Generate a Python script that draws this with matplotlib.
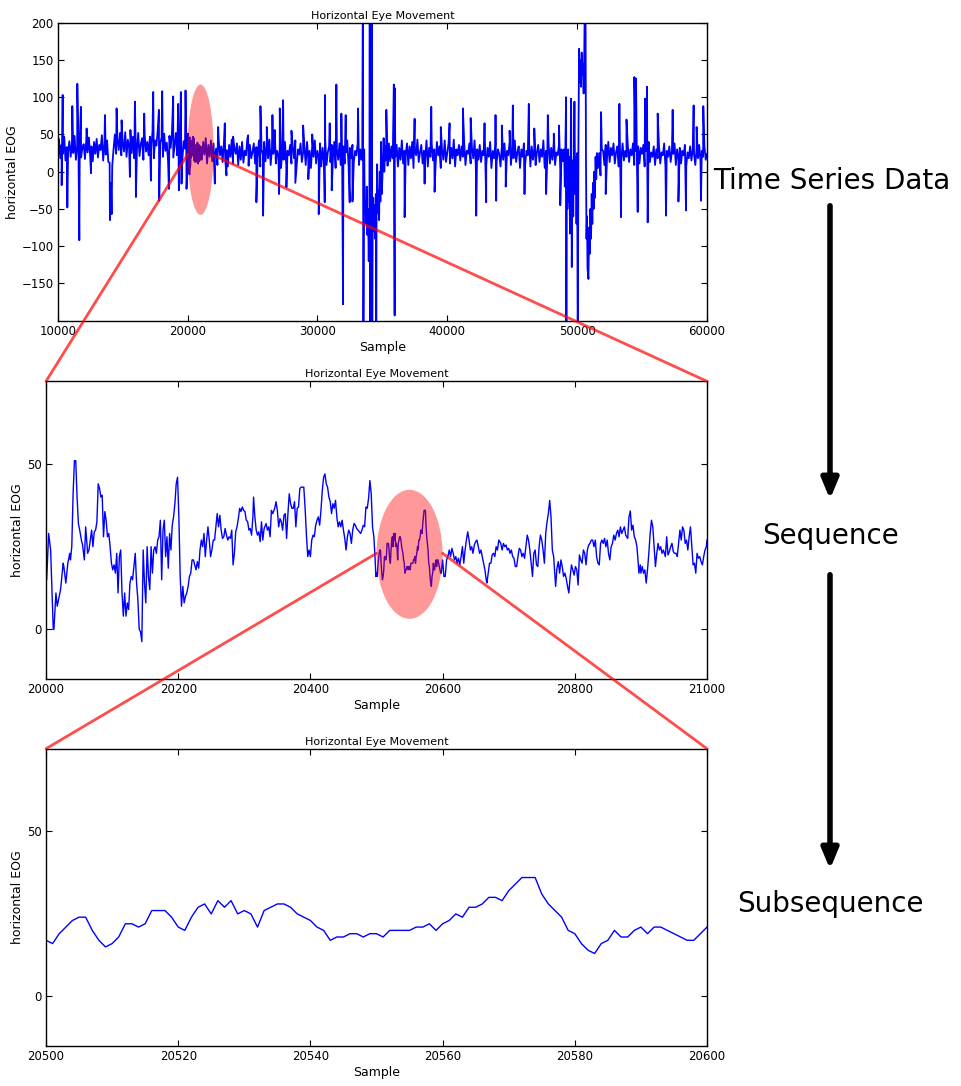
import matplotlib
matplotlib.use("Agg")
import matplotlib.pyplot as plt
from matplotlib.patches import Ellipse, ConnectionPatch, FancyArrowPatch

# ---------------- data ----------------
# Subsequence: one value per sample, 20500 .. 20600
sub_start = 20500
sub_y = [17, 16, 19, 21, 23, 24, 24, 20, 17, 15, 16, 18, 22, 22, 21, 22, 26, 26, 26, 24,
         21, 20, 24, 27, 28, 25, 29, 27, 29, 25, 26, 25, 21, 26, 27, 28, 28, 27, 25, 24,
         23, 21, 20, 17, 18, 18, 19, 19, 18, 19, 19, 18, 20, 20, 20, 20, 21, 21, 22, 20,
         22, 23, 25, 24, 27, 27, 28, 30, 30, 29, 32, 34, 36, 36, 36, 31, 28, 26, 24, 20,
         19, 16, 14, 13, 16, 17, 20, 18, 18, 20, 21, 19, 21, 21, 20, 19, 18, 17, 17, 19, 21]

# Sequence before the subsequence (sample, value)
seq_a = [(20000, 15), (20001, 15), (20004, 29), (20007, 24), (20011, 0), (20012, 0), (20015, 11),
         (20017, 7), (20020, 10), (20022, 12), (20026, 20), (20027, 19), (20030, 14), (20033, 20),
         (20036, 23), (20037, 21), (20039, 25), (20041, 41), (20043, 51), (20045, 51), (20047, 40),
         (20049, 32), (20051, 30), (20054, 26.5), (20055, 26), (20058, 21), (20060, 31), (20063, 23),
         (20065, 24), (20067, 27), (20069, 30), (20071, 25), (20073, 29.5), (20075, 30), (20077, 32.5),
         (20079, 44), (20081, 42.6), (20083, 40), (20085, 40.6), (20087, 28), (20089, 35.6), (20091, 33),
         (20093, 28), (20095, 29), (20097, 25), (20099, 20), (20101, 18), (20103, 19.5), (20105, 17),
         (20107, 23), (20109, 11), (20111, 22), (20113, 24), (20115, 11), (20117, 4), (20119, 11),
         (20121, 4), (20123, 8), (20125, 6), (20127, 14), (20129, 16), (20131, 15), (20133, 19),
         (20135, 23), (20137, 14), (20139, 9), (20141, 0), (20143, -0.7), (20145, -3.7), (20147, 24),
         (20149, 14), (20151, 8), (20153, 25), (20155, 16), (20157, 12), (20159, 25), (20161, 17),
         (20163, 24), (20165, 25), (20167, 23), (20169, 27), (20171, 28), (20173, 33), (20175, 15),
         (20177, 30), (20179, 33), (20181, 22), (20183, 28), (20185, 18.5), (20187, 29), (20189, 24),
         (20191, 31.5), (20193, 34), (20195, 38), (20197, 44), (20199, 46), (20201, 34), (20203, 16),
         (20205, 7), (20207, 13), (20209, 8), (20211, 10), (20213, 11), (20215, 13), (20217, 16),
         (20219, 17), (20221, 21), (20223, 21), (20225, 19.5), (20227, 18), (20229, 20.5), (20231, 18.5),
         (20233, 24), (20235, 27), (20237, 25), (20239, 29), (20241, 22), (20243, 27), (20245, 31),
         (20247, 27), (20249, 22), (20251, 24), (20253, 27), (20255, 27), (20257, 31), (20259, 35),
         (20261, 31), (20263, 34.5), (20265, 30), (20267, 27.5), (20269, 28), (20271, 30.5), (20273, 28.5),
         (20275, 27), (20277, 28), (20279, 27.5), (20281, 30), (20283, 19.5), (20285, 23), (20287, 29.5),
         (20289, 31), (20291, 33.5), (20293, 36.6), (20295, 35.6), (20297, 37), (20299, 36), (20301, 35.6),
         (20303, 33), (20305, 32.6), (20307, 30), (20309, 30.5), (20311, 28.5), (20313, 34), (20314, 40),
         (20316, 34), (20318, 30), (20320, 28.5), (20322, 29.5), (20324, 26.5), (20326, 32.5), (20328, 27),
         (20330, 30.5), (20333, 32), (20335, 30), (20337, 31), (20339, 28), (20341, 36), (20343, 35),
         (20346, 36.6), (20348, 38.6), (20350, 36), (20352, 31), (20354, 33.5), (20356, 32.5), (20358, 30),
         (20360, 34.5), (20362, 35), (20364, 27.5), (20366, 35), (20368, 41), (20370, 38), (20372, 36.6),
         (20374, 36.6), (20376, 38.6), (20378, 31), (20380, 36.6), (20382, 37), (20384, 42.6), (20386, 43),
         (20388, 43), (20390, 43), (20392, 36.6), (20394, 28.5), (20396, 22), (20398, 24), (20400, 22),
         (20402, 27), (20404, 28.5), (20406, 28), (20408, 31.5), (20410, 33), (20412, 34), (20414, 31.5),
         (20416, 36), (20418, 42), (20420, 46), (20422, 47), (20424, 44), (20426, 43), (20428, 40),
         (20430, 38.6), (20432, 35), (20434, 38), (20436, 36.6), (20438, 39), (20440, 34), (20442, 31),
         (20444, 32.5), (20446, 31), (20448, 33), (20450, 30), (20452, 27.5), (20454, 24), (20456, 28),
         (20458, 30), (20460, 29), (20462, 26), (20464, 30), (20466, 32), (20468, 31.5), (20470, 30.5),
         (20472, 30), (20474, 29.5), (20476, 29), (20478, 30), (20480, 31.5), (20482, 31), (20484, 37),
         (20486, 36.6), (20488, 39.6), (20490, 45), (20492, 41), (20494, 31), (20496, 28), (20498, 21),
         (20499, 16)]

# Sequence after the subsequence (sample, value)
seq_b = [(20602, 16), (20604, 16), (20606, 21), (20608, 22), (20610, 24), (20612, 22), (20614, 24.5),
         (20616, 23), (20618, 21), (20620, 22), (20622, 20), (20624, 21.5), (20626, 19.5), (20628, 22),
         (20630, 25), (20632, 20), (20634, 24), (20636, 27), (20638, 29.5), (20640, 27), (20642, 24),
         (20644, 25), (20646, 23), (20648, 25.5), (20650, 26.5), (20652, 27), (20654, 25), (20656, 23),
         (20658, 24), (20660, 22), (20662, 20), (20664, 18), (20666, 15), (20667, 14), (20669, 17),
         (20671, 20), (20673, 20), (20675, 22.5), (20677, 23), (20679, 22), (20681, 25), (20683, 24),
         (20685, 27), (20688, 26), (20690, 24), (20692, 26), (20694, 25), (20696, 25.5), (20698, 24),
         (20700, 24.5), (20702, 23), (20704, 24), (20706, 22), (20708, 21.5), (20710, 19), (20712, 19),
         (20714, 22), (20716, 24.5), (20718, 24), (20720, 22), (20722, 23), (20724, 21.5), (20726, 25),
         (20728, 28.5), (20730, 27), (20732, 24), (20734, 20), (20736, 16), (20738, 23), (20740, 24),
         (20742, 19.5), (20744, 19), (20746, 25), (20748, 28.5), (20750, 27), (20752, 24), (20754, 20),
         (20756, 29), (20758, 32.5), (20760, 35), (20762, 39), (20764, 34), (20766, 24), (20768, 22),
         (20770, 16), (20771, 13), (20773, 18.5), (20775, 20.5), (20777, 17), (20779, 21), (20781, 19),
         (20783, 16), (20785, 17), (20787, 15.4), (20789, 13), (20791, 11), (20793, 16), (20795, 19.5),
         (20797, 18), (20799, 16.4), (20801, 19), (20803, 18), (20805, 13.4), (20807, 22.5), (20809, 21),
         (20811, 20), (20813, 24), (20815, 23), (20817, 19.5), (20819, 24), (20821, 25.5), (20823, 26),
         (20825, 27), (20827, 27), (20829, 25), (20831, 27), (20833, 22), (20835, 20), (20837, 19.5),
         (20839, 26), (20841, 27), (20843, 26), (20845, 27.5), (20847, 25), (20849, 27), (20851, 23),
         (20853, 21), (20855, 25), (20857, 26), (20859, 28.5), (20861, 27), (20863, 29), (20865, 30),
         (20867, 28), (20869, 31), (20871, 29), (20873, 30), (20875, 31), (20877, 28.5), (20880, 27.5),
         (20882, 34), (20884, 35.8), (20886, 30), (20888, 31.5), (20890, 28), (20892, 27), (20894, 25),
         (20896, 20), (20897, 17), (20899, 19.5), (20900, 17), (20902, 19), (20904, 17), (20906, 18),
         (20908, 14), (20910, 18), (20912, 23), (20914, 29), (20916, 33), (20918, 31), (20920, 25),
         (20922, 19), (20924, 23), (20926, 26), (20928, 24), (20930, 25), (20932, 23), (20934, 24),
         (20937, 22), (20939, 28), (20941, 22.5), (20943, 23.5), (20945, 25), (20947, 26), (20949, 23.5),
         (20951, 23), (20953, 23), (20955, 22), (20957, 26), (20959, 30), (20961, 27), (20963, 31),
         (20965, 30), (20967, 26), (20969, 27), (20971, 24), (20973, 28), (20975, 31), (20977, 25),
         (20979, 19.5), (20981, 20), (20983, 17), (20985, 23), (20987, 21.5), (20989, 22), (20991, 20.5),
         (20993, 19.5), (20995, 22), (20997, 24), (20999, 25), (21000, 27)]

# Long recording: band values every 100 samples (start sample, values)
band_step = 100
band_1_start = 10000
band_1 = [30, 44, 18, 36, 24, 47, 15, 33, 27, 41,
          20, 39, 25, 48, 16, 35, 28, 43, 19, 32,
          37, 17, 42, 26, 46, 21, 34, 14, 40, 24,
          44, 19, 36, 29, 49, 15, 38, 23, 42, 13,
          12, -15, 8, 30, 50, 24, 44, 29, 52, 22,
          40, 27, 53, 20, 43, 32, 56, 25, 47, 18,
          41, 29, 52, 21, 37, 45, 16, 49, 27, 40,
          22, 47, 31, 54, 18, 42, 35, 55, 24, 38,
          46, 20, 51, 28, 39, 14, 48, 32, 54, 19,
          35, 52, 22, 44, 28, 56, 17, 41, 31, 48]
band_2_start = 21000
band_2 = [34, 16, 40, 23, 45, 11, 36, 20, 42, 14,
          38, 18, 31, 9, 42, 22, 34, 13, 39, 17,
          29, 7, 36, 20, 43, 11, 32, 24, 38, 9,
          34, 16, 40, 12, 28, 22, 44, 8, 36, 18,
          26, 38, 11, 33, 20, 42, 7, 30, 23, 40,
          14, 36, 18, 43, 9, 32, 24, 38, 11, 28,
          20, 38, 5, 32, 16, 40, 9, 28, 22, 36,
          11, 34, 18, 42, 7, 30, 23, 38, 13, 26,
          33, 9, 40, 16, 28, 5, 36, 20, 42, 11,
          28, 18, 38, 7, 32, 14, 43, 9, 26, 34,
          13, 36, 20, 40, 5, 30, 16, 38, 9, 28,
          34, 11, 26, 42, 7, 32, 18, 36, 13, 28,
          22, 38, 9, 30, 16]
band_3_start = 35300
band_3 = [30, 8, 38, 14, 34, 18, 40,
          20, 36, 7, 32, 16, 42, 11, 28, 23, 38,
          9, 34, 18, 40, 5, 30, 22, 43, 13, 26,
          36, 11, 28, 18, 42, 7, 32, 20, 38, 15,
          30, 9, 40, 22, 34, 5, 28, 16, 42, 13,
          26, 38, 11, 32, 18, 43, 7, 30, 22, 36,
          15, 34, 20, 40, 9, 28, 24, 38, 11, 32,
          18, 42, 7, 30, 16, 36, 13, 28, 22, 38,
          9, 32, 20, 40, 5, 28, 18, 36, 13, 30,
          24, 7, 34, 16, 38, 11, 28, 22, 40, 9,
          32, 18, 42, 13, 26, 34, 5, 30, 20, 38,
          11, 28, 22, 40, 7, 34, 16, 32, 9, 26,
          36, 13, 30, 20, 42, 5, 28, 18, 38, 11,
          32, 16, 40, 9, 26, 22, 36, 3, 30, 14]
band_4_start = 51600
band_4 = [5, 25, -5, 30,
          28, 9, 36, 18, 40, 13, 32, 22, 38, 11,
          26, 34, 7, 30, 16, 38, 15, 28, 20, 36,
          13, 30, 22, 38, 9, 28, 18, 34, 11, 32,
          24, 36, 7, 28, 16, 40, 13, 26, 20, 34,
          9, 30, 18, 36, 11, 26, 22, 38, 7, 28,
          20, 34, 13, 28, 24, 38, 9, 30, 16, 32,
          11, 28, 22, 36, 7, 26, 18, 34, 15, 30,
          24, 9, 32, 18, 36, 13, 28, 20, 34, 16,
          24]

# Large eye-movement excursions (sample, value); +-250 runs off the axes
swing_1 = [(33450, 20), (33500, 250), (33540, -250), (33600, 30), (33650, -55), (33700, -40),
           (33760, -70), (33800, -20), (33850, -85), (33900, -50), (33950, -120), (34000, -60),
           (34030, 250), (34060, -250), (34100, 250), (34150, -250), (34180, 250), (34220, -250),
           (34260, -60), (34300, -35), (34350, -80), (34400, -45), (34450, -90), (34500, -30),
           (34530, -250), (34550, -70), (34600, 10), (34650, -55), (34700, -25), (34750, -65),
           (34800, 0), (34850, -40), (34900, 40), (34950, -30), (35000, -10), (35050, 20),
           (35100, 45), (35150, 0), (35200, 35), (35250, 15)]
swing_2 = [(49000, 30), (49050, -20), (49100, 40), (49150, 100), (49170, -250), (49200, 10),
           (49250, -50), (49300, 30), (49350, -40), (49400, 20), (49450, -83), (49500, 25),
           (49535, 98), (49587, -128), (49650, 15), (49700, -60), (49750, 30), (49792, 94),
           (49850, -30), (49900, 20), (49950, -70), (50000, 25), (50048, -250), (50100, 40),
           (50150, 165), (50200, 120), (50250, 150), (50300, 114), (50350, 160), (50400, 130),
           (50450, 145), (50500, 105), (50550, 160), (50600, 250), (50640, 250), (50680, 20),
           (50720, -90), (50760, -60), (50800, -130), (50870, -144), (50920, -75), (50970, -110),
           (51020, -50), (51070, -90), (51120, -30), (51170, -70), (51220, -15), (51270, -50),
           (51320, 0), (51370, -35), (51420, 20), (51470, -10), (51520, 25)]

# Isolated blink spikes (sample, value)
spikes = [(10305, -18), (10382, 103), (10741, -48), (11125, 88), (11510, 118), (11664, -92),
          (11790, 87), (12228, 58), (12561, -2), (13638, 76), (14022, -65), (14150, -57),
          (14535, 85), (14920, 69), (15560, -7), (15945, 94), (16022, -34), (16663, 78),
          (17176, -12), (17355, 107), (17791, 83), (17817, -39), (18047, 108), (18560, -23),
          (18894, 101), (19279, 91), (19330, -25), (19484, 107), (19535, -16), (19843, 109),
          (19920, -23), (22099, -16), (22355, 60), (22868, 65), (22996, -5), (23510, 47),
          (24663, 49), (25300, -41), (25612, 88), (25817, -59), (26100, 60), (26536, 76),
          (26714, 56), (27049, -30), (27100, 85), (27357, 96), (27613, -21), (28000, 55),
          (28300, -15), (28900, 62), (29300, -10), (29600, 50), (30100, -57), (30562, -41),
          (30587, 103), (30946, 65), (31100, -25), (31459, 117), (31844, 78), (31972, -178),
          (32177, 76), (32485, -41), (32700, -40), (33125, 85), (35306, 83), (35885, 117),
          (35946, -193), (35960, 112), (36715, -61), (37484, 71), (38253, -16), (38766, 87),
          (39023, -27), (39500, 60), (40177, 65), (41202, 85), (41800, 72), (42228, -59),
          (42869, 65), (42997, -41), (43715, 76), (43766, -39), (44200, 62), (44500, -20),
          (44800, 55), (45048, 89), (45946, -30), (46279, 91), (46700, 58), (47612, -30),
          (47741, 76), (48202, 51), (48600, 62), (48700, -45), (51843, 80), (52200, -30),
          (53253, 91), (53381, -61), (53800, 70), (54407, 127), (54535, 125), (54663, -54),
          (55227, 98), (55381, 114), (55433, -68), (56202, 78), (56843, -59), (57356, 83),
          (57800, -40), (58382, -52), (58971, 89), (59200, 60), (59535, -39), (59714, 88)]

# Labels
title_text = "Horizontal Eye Movement"
x_label = "Sample"
y_label = "horizontal EOG"
stage_labels = ["Time Series Data", "Sequence", "Subsequence"]

# ---------------- assemble series ----------------
sub_pts = [(sub_start + i, v) for i, v in enumerate(sub_y)]
seq_pts = seq_a + sub_pts + seq_b

top_pts = []
for start, vals in [(band_1_start, band_1), (band_2_start, band_2),
                    (band_3_start, band_3), (band_4_start, band_4)]:
    top_pts += [(start + band_step * i, v) for i, v in enumerate(vals)]
top_pts += swing_1 + swing_2 + spikes + seq_pts
top_pts.sort(key=lambda p: p[0])

def split(pts):
    return [p[0] for p in pts], [p[1] for p in pts]

top_x, top_y = split(top_pts)
seq_x, seq_y = split(seq_pts)
sub_x, sub_v = split(sub_pts)

# ---------------- style ----------------
plt.rcParams.update({
    "font.family": "DejaVu Sans",
    "xtick.direction": "in", "ytick.direction": "in",
    "xtick.top": True, "ytick.right": True,
    "xtick.major.size": 4, "ytick.major.size": 4,
    "xtick.labelsize": 8.5, "ytick.labelsize": 8.5,
    "axes.linewidth": 1.0,
})

W, H = 961, 1086
fig = plt.figure(figsize=(W / 100, H / 100), dpi=100)

def axes_px(left, top, right, bottom):
    return fig.add_axes([left / W, 1 - bottom / H, (right - left) / W, (bottom - top) / H])

ax1 = axes_px(57.7, 22.7, 707, 320.7)
ax2 = axes_px(46, 381.3, 707, 679)
ax3 = axes_px(46, 748.7, 707, 1046)

for ax, (xs, ys), lw in zip([ax1, ax2, ax3],
                            [(top_x, top_y), (seq_x, seq_y), (sub_x, sub_v)],
                            [1.3, 1.0, 1.0]):
    ax.plot(xs, ys, color="blue", lw=lw, zorder=2)
    ax.set_title(title_text, fontsize=8, pad=3)
    ax.set_xlabel(x_label, fontsize=9, labelpad=2)
    ax.set_ylabel(y_label, fontsize=9, labelpad=2)
    ax.ticklabel_format(useOffset=False, style="plain")
    ax.tick_params(pad=3)

ax1.set_xlim(10000, 60000)
ax1.set_ylim(-200, 200)
ax1.set_xticks(range(10000, 60001, 10000))
ax1.set_yticks(range(-150, 201, 50))

ax2.set_xlim(20000, 21000)
ax2.set_ylim(-15, 75)
ax2.set_xticks(range(20000, 21001, 200))
ax2.set_yticks([0, 50])

ax3.set_xlim(20500, 20600)
ax3.set_ylim(-15, 75)
ax3.set_xticks(range(20500, 20601, 20))
ax3.set_yticks([0, 50])

# zoom highlight ellipses
ax1.add_patch(Ellipse((21000, 29.5), 2000, 175, facecolor="red", alpha=0.4, lw=0, zorder=3))
ax2.add_patch(Ellipse((20550, 22.7), 100, 39, facecolor="red", alpha=0.4, lw=0, zorder=3))

# connector lines
line_kw = dict(color="red", alpha=0.7, lw=2.0, zorder=10)
for (axa, xya, axb, xyb) in [(ax1, (20000, 23), ax2, (0, 1)), (ax1, (22000, 22), ax2, (1, 1)),
                             (ax2, (20500, 23), ax3, (0, 1)), (ax2, (20600, 23), ax3, (1, 1))]:
    con = ConnectionPatch(xyA=xya, coordsA="data", axesA=axa,
                          xyB=xyb, coordsB="axes fraction", axesB=axb, **line_kw)
    fig.add_artist(con)

# stage labels and arrows
label_pos = [(832, 181), (830, 536), (830, 904)]
for txt, (px, py) in zip(stage_labels, label_pos):
    fig.text(px / W, 1 - py / H, txt, ha="center", va="center", fontsize=20)

for (y0, y1) in [(203, 502), (572, 872)]:
    arr = FancyArrowPatch((830 / W, 1 - y0 / H), (830 / W, 1 - y1 / H),
                          transform=fig.transFigure,
                          arrowstyle="-|>,head_length=0.6,head_width=0.25",
                          mutation_scale=20, lw=4, color="black")
    fig.add_artist(arr)

fig.savefig("out.png", dpi=100)
